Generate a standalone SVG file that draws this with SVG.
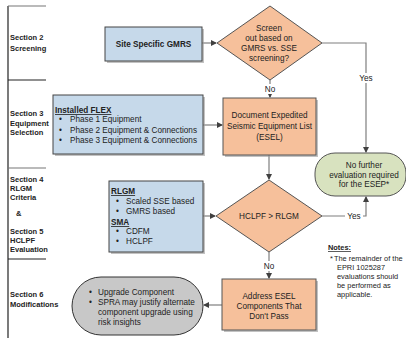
<svg xmlns="http://www.w3.org/2000/svg" width="406" height="338" viewBox="0 0 406 338">
<defs>
<marker id="ah" markerWidth="6" markerHeight="6" refX="5" refY="3" orient="auto" markerUnits="userSpaceOnUse">
<path d="M0,0 L6,3 L0,6 Z" fill="#404040"/>
</marker>
<style>
text{font-family:"Liberation Sans",Arial,sans-serif;fill:#222}
.t{font-size:8.2px}
.c{text-anchor:middle}
.sec{font-size:7.5px;font-weight:bold}
.b{font-weight:bold}
.u{text-decoration:underline}
.n{font-size:7.4px}
.blue{fill:#c6d9ea;stroke:#444;stroke-width:1}
.org{fill:#f6c09b;stroke:#555;stroke-width:1}
.grn{fill:#d8e2bf;stroke:#555;stroke-width:1}
.gry{fill:#c8c8c8;stroke:#333;stroke-width:1}
.sh{fill:#9a9a9a;opacity:0.6}
.con{fill:none;stroke:#7f7f7f;stroke-width:1.2}
.arr{marker-end:url(#ah)}
.lbl{fill:#fff}
.sl{stroke:#222;stroke-width:1.2}
.sg{stroke:#777;stroke-width:1.2}
</style>
</defs>
<rect width="406" height="338" fill="#fff"/>

<g id="sections">
<line class="sl" x1="8" y1="6" x2="8" y2="338"/>
<line class="sg" x1="8" y1="6" x2="46" y2="6"/>
<line class="sl" x1="8" y1="80" x2="46" y2="80"/>
<line class="sg" x1="8" y1="168" x2="46" y2="168"/>
<line class="sl" x1="8" y1="259" x2="46" y2="259"/>
<text class="sec" x="10" y="40">Section 2</text>
<text class="sec" x="10" y="51">Screening</text>
<text class="sec" x="10" y="116">Section 3</text>
<text class="sec" x="10" y="126">Equipment</text>
<text class="sec" x="10" y="135">Selection</text>
<text class="sec" x="10" y="182">Section 4</text>
<text class="sec" x="10" y="191">RLGM</text>
<text class="sec" x="10" y="200">Criteria</text>
<text class="sec" x="16" y="216">&amp;</text>
<text class="sec" x="10" y="234">Section 5</text>
<text class="sec" x="10" y="243">HCLPF</text>
<text class="sec" x="10" y="252">Evaluation</text>
<text class="sec" x="10" y="297">Section 6</text>
<text class="sec" x="10" y="307">Modifications</text>
</g>

<g id="connectors">
<line class="con arr" x1="202" y1="43" x2="216" y2="43"/>
<line class="con arr" x1="270" y1="80" x2="270" y2="97"/>
<polyline class="con arr" points="322,43 366,43 366,152"/>
<line class="con arr" x1="203" y1="125" x2="222" y2="125"/>
<line class="con arr" x1="269" y1="155" x2="269" y2="179"/>
<line class="con arr" x1="203" y1="216" x2="215" y2="216"/>
<polyline class="con arr" points="322,216 366,216 366,197"/>
<line class="con arr" x1="269" y1="252" x2="269" y2="278"/>
<line class="con arr" x1="222" y1="305" x2="204" y2="305"/>
<rect class="lbl" x="262" y="84" width="16" height="10"/>
<text class="t c" x="270" y="92">No</text>
<rect class="lbl" x="357" y="73" width="18" height="10"/>
<text class="t c" x="366" y="81">Yes</text>
<rect class="lbl" x="345" y="211" width="18" height="10"/>
<text class="t c" x="354" y="219">Yes</text>
<rect class="lbl" x="261" y="261" width="16" height="10"/>
<text class="t c" x="269" y="269">No</text>
</g>

<g id="gmrs">
<rect class="sh" x="107" y="29" width="97" height="34"/>
<rect class="blue" x="105" y="27" width="97" height="34"/>
<text class="t c b" x="153.5" y="47">Site Specific GMRS</text>
</g>

<g id="screen">
<polygon class="org" points="270,6 322,43 270,80 217,43"/>
<text class="t c" x="269" y="31">Screen</text>
<text class="t c" x="269" y="41">out based on</text>
<text class="t c" x="269" y="51">GMRS vs. SSE</text>
<text class="t c" x="269" y="61">screening?</text>
</g>

<g id="nofurther">
<rect class="grn" x="315" y="153" width="91" height="43" rx="20" ry="20"/>
<text class="t c" x="364" y="168">No further</text>
<text class="t c" x="364" y="178">evaluation required</text>
<text class="t c" x="364" y="187">for the ESEP*</text>
</g>

<g id="flex">
<rect class="sh" x="55" y="97" width="150" height="59"/>
<rect class="blue" x="53" y="95" width="150" height="59"/>
<text class="t b u" x="55" y="113">Installed FLEX</text>
<text class="t" x="59" y="122">•</text>
<text class="t" x="70" y="122">Phase 1 Equipment</text>
<text class="t" x="59" y="133">•</text>
<text class="t" x="70" y="133">Phase 2 Equipment &amp; Connections</text>
<text class="t" x="59" y="143">•</text>
<text class="t" x="70" y="143">Phase 3 Equipment &amp; Connections</text>
</g>

<g id="esel">
<rect class="sh" x="225" y="100" width="93" height="57"/>
<rect class="org" x="223" y="98" width="93" height="57"/>
<text class="t c" x="269.5" y="118">Document Expedited</text>
<text class="t c" x="269.5" y="129">Seismic Equipment List</text>
<text class="t c" x="269.5" y="140">(ESEL)</text>
</g>

<g id="rlgm">
<rect class="sh" x="111" y="183" width="94" height="71"/>
<rect class="blue" x="109" y="181" width="94" height="71"/>
<text class="t b u" x="111" y="194">RLGM</text>
<text class="t" x="116" y="204">•</text>
<text class="t" x="126" y="204">Scaled SSE based</text>
<text class="t" x="116" y="214">•</text>
<text class="t" x="126" y="214">GMRS based</text>
<text class="t b u" x="111" y="225">SMA</text>
<text class="t" x="116" y="234">•</text>
<text class="t" x="126" y="234">CDFM</text>
<text class="t" x="116" y="244">•</text>
<text class="t" x="126" y="244">HCLPF</text>
</g>

<g id="hclpf">
<polygon class="org" points="269,180 322,216 269,252 216,216"/>
<text class="t c" x="269" y="219">HCLPF &gt; RLGM</text>
</g>

<g id="notes">
<text class="n b u" x="328" y="250">Notes:</text>
<text class="n" x="330" y="261">*</text>
<text class="n" x="334" y="261">The remainder of the</text>
<text class="n" x="337" y="270">EPRI 1025287</text>
<text class="n" x="337" y="279">evaluations should</text>
<text class="n" x="337" y="288">be performed as</text>
<text class="n" x="337" y="297">applicable.</text>
</g>

<g id="address">
<rect class="sh" x="224" y="281" width="94" height="51"/>
<rect class="org" x="222" y="279" width="94" height="51"/>
<text class="t c" x="269" y="299">Address ESEL</text>
<text class="t c" x="269" y="309">Components That</text>
<text class="t c" x="269" y="319">Don't Pass</text>
</g>

<g id="upgrade">
<rect class="gry" x="72" y="277" width="131" height="58" rx="29" ry="29"/>
<text class="t" x="89" y="295">•</text>
<text class="t" x="98" y="295">Upgrade Component</text>
<text class="t" x="89" y="305">•</text>
<text class="t" x="98" y="305">SPRA may justify alternate</text>
<text class="t" x="98" y="315">component upgrade using</text>
<text class="t" x="98" y="325">risk insights</text>
</g>
</svg>
